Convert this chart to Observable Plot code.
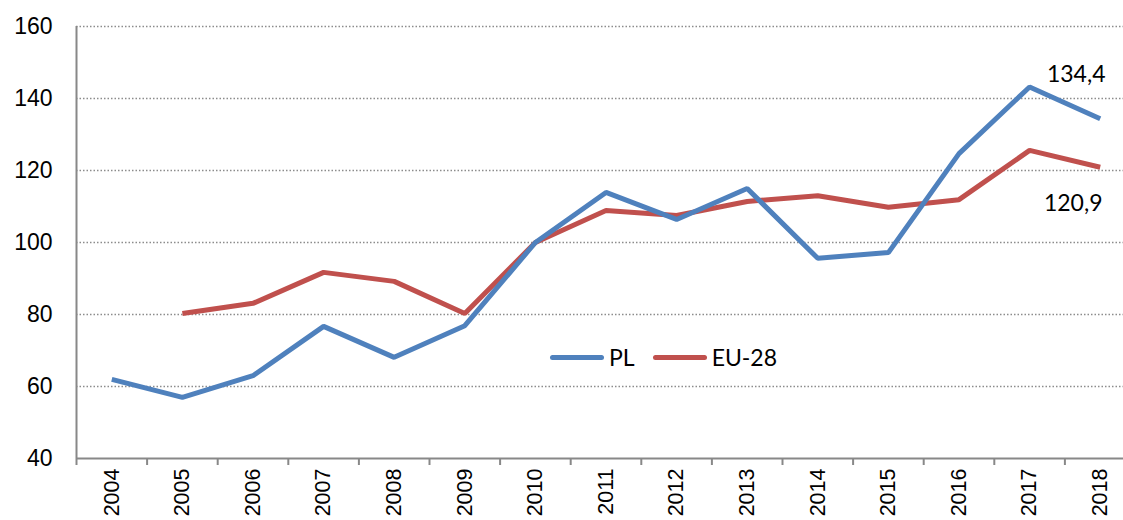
<!DOCTYPE html>
<html>
<head>
<meta charset="utf-8">
<script src="https://cdn.jsdelivr.net/npm/d3@7"></script>
<script src="https://cdn.jsdelivr.net/npm/@observablehq/plot@0.6"></script>
<style>
  html, body { margin: 0; padding: 0; background: #fff; }
  #wrap { position: relative; width: 1123px; height: 520px; overflow: hidden; }
  #wrap svg { display: block; }
  .legend { position: absolute; left: 550px; top: 343px; display: flex; align-items: center;
            font-family: Lato, "Liberation Sans", sans-serif; font-size: 23px; color: #000; }
  .legend .sw { display: inline-block; width: 54px; height: 5px; border-radius: 3px; margin-right: 5px; }
  .legend .item { display: flex; align-items: center; margin-right: 18px; }
</style>
</head>
<body>
<div id="wrap"></div>
<script>
const years = [2004, 2005, 2006, 2007, 2008, 2009, 2010, 2011, 2012, 2013, 2014, 2015, 2016, 2017, 2018];
const plValues = [62, 57, 63, 76.7, 68.1, 76.9, 100, 113.9, 106.4, 115, 95.6, 97.2, 124.7, 143.2, 134.4];
const euValues = [null, 80.3, 83.1, 91.7, 89.2, 80.3, 100, 108.9, 107.5, 111.4, 113.0, 109.8, 111.9, 125.6, 120.9];
const seriesNames = ["PL", "EU-28"];
const seriesColors = ["#4F81BD", "#C0504D"];
const yTicks = [40, 60, 80, 100, 120, 140, 160];
const gridTicks = [60, 80, 100, 120, 140, 160];

const pl = years.map((y, i) => ({year: y, value: plValues[i]}));
const eu = years.map((y, i) => ({year: y, value: euValues[i]})).filter(d => d.value != null);
const boundaries = years.map(y => y - 0.5).concat([years[years.length - 1] + 0.5]);
const fmt = v => String(v).replace(".", ",");
const lastPl = pl[pl.length - 1];
const lastEu = eu[eu.length - 1];

const chart = Plot.plot({
  width: 1123,
  height: 520,
  marginLeft: 76,
  marginRight: 0,
  marginTop: 26,
  marginBottom: 62,
  style: {fontFamily: "'Liberation Sans', Arial, sans-serif", fontSize: "21px", color: "#000", background: "#fff"},
  x: {type: "linear", domain: [years[0] - 0.5, years[years.length - 1] + 0.5], range: [76, 1135]},
  y: {domain: [40, 160], range: [458, 26]},
  marks: [
    Plot.ruleY(gridTicks, {stroke: "#8c8c8c", strokeWidth: 1.5, strokeDasharray: "1.5,2"}),
    Plot.axisY({ticks: yTicks, tickSize: 0, tickPadding: 24, tickFormat: d => String(d), fontSize: 23, label: null}),
    Plot.axisX({ticks: boundaries, tickSize: 7, tickFormat: () => "", stroke: "#888", strokeWidth: 2, label: null}),
    Plot.axisX({ticks: years, tickSize: 0, tickPadding: 10, tickRotate: -90, tickFormat: d => String(d), fontSize: 21.5, label: null}),
    Plot.ruleX([years[0] - 0.5], {stroke: "#888", strokeWidth: 2}),
    Plot.ruleY([40], {stroke: "#888", strokeWidth: 2}),
    Plot.line(eu, {x: "year", y: "value", stroke: seriesColors[1], strokeWidth: 5, strokeLinejoin: "miter", strokeLinecap: "butt"}),
    Plot.line(pl, {x: "year", y: "value", stroke: seriesColors[0], strokeWidth: 5, strokeLinejoin: "miter", strokeLinecap: "butt"}),
    Plot.text([lastPl], {x: "year", y: "value", text: d => fmt(d.value), dx: -24, dy: -44, fontFamily: "Lato, sans-serif", fontSize: 23, fill: "#000"}),
    Plot.text([lastEu], {x: "year", y: "value", text: d => fmt(d.value), dx: -27, dy: 36, fontFamily: "Lato, sans-serif", fontSize: 23, fill: "#000"})
  ]
});

const wrap = document.getElementById("wrap");
wrap.appendChild(chart);

const legend = document.createElement("div");
legend.className = "legend";
seriesNames.forEach((name, i) => {
  const item = document.createElement("span");
  item.className = "item";
  const sw = document.createElement("span");
  sw.className = "sw";
  sw.style.background = seriesColors[i];
  const lab = document.createElement("span");
  lab.textContent = name;
  item.appendChild(sw);
  item.appendChild(lab);
  legend.appendChild(item);
});
wrap.appendChild(legend);
</script>
</body>
</html>
